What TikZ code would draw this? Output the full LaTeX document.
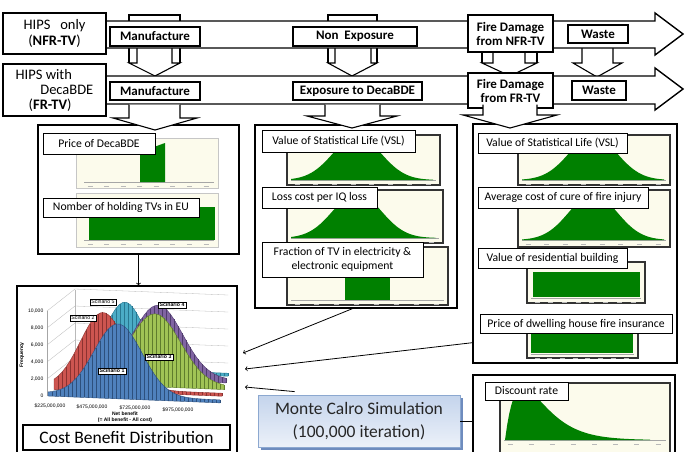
\documentclass[tikz,border=0pt]{standalone}
\usepackage{fontspec}
\setmainfont{Carlito}
\newfontfamily\chartfont{Liberation Sans}
\usetikzlibrary{arrows,calc}

\definecolor{chartbg}{RGB}{252,251,236}
\definecolor{distgreen}{RGB}{0,128,0}
\definecolor{mcTop}{RGB}{196,212,236}
\definecolor{mcBot}{RGB}{236,241,249}
\definecolor{mcEdge}{RGB}{140,168,208}
\definecolor{mcShadow}{RGB}{110,140,190}
\definecolor{scBlue}{RGB}{79,129,189}
\definecolor{scBlueD}{RGB}{45,80,125}
\definecolor{scRed}{RGB}{205,85,80}
\definecolor{scRedD}{RGB}{140,50,48}
\definecolor{scGreen}{RGB}{160,195,85}
\definecolor{scGreenD}{RGB}{95,125,45}
\definecolor{scPurple}{RGB}{128,100,162}
\definecolor{scPurpleD}{RGB}{80,60,110}
\definecolor{scCyan}{RGB}{75,172,198}
\definecolor{scCyanD}{RGB}{40,120,145}

\newcommand{\chartaxis}[3]{%
  \draw[gray!70, line width=0.5pt] (#1,#3) -- (#2,#3);
  \foreach \t in {0,...,7}{\draw[gray!55, line width=0.9pt] ({#1+6+\t*(#2-#1-14)/7-2.5},{#3+4}) -- ++(5,0);}
}

\begin{document}
\begin{tikzpicture}[x=1pt, y=-1pt,
  band/.style={draw, fill=white, line width=1.4pt, line join=miter},
  hipsbox/.style={draw, fill=white, line width=1.4pt, font=\fontsize{14.5}{16}\selectfont, inner sep=2pt},
  stage/.style={draw, fill=white, line width=1.1pt, font=\bfseries\fontsize{13}{14}\selectfont, align=center, inner sep=1pt},
  downarrow/.style={draw, fill=white, line width=1.1pt},
  panel/.style={draw, fill=white, line width=1.4pt},
  distframe/.style={fill=chartbg, draw=gray!45, line width=0.4pt},
  darkframe/.style={fill=chartbg, draw=black!80, line width=1.6pt},
  lbl/.style={draw, fill=white, line width=0.9pt, font=\fontsize{11.7}{13.5}\selectfont, inner sep=1pt, align=center},
  flow/.style={->, >=to, line width=0.8pt},
  scen/.style={draw, fill=white, line width=0.4pt, font=\chartfont\fontsize{5.2}{6}\selectfont, inner sep=1.3pt},
  scenbold/.style={scen, font=\chartfont\bfseries\fontsize{5.2}{6}\selectfont},
  tick/.style={font=\chartfont\fontsize{5}{5.6}\selectfont, inner sep=0.5pt}
]
\useasboundingbox (0,0) rectangle (685,451);

% down arrows between the two life-cycle rows
\foreach \ra/\rb/\sa/\sb/\tx in {129/180/137/172/155, 328/377/335/371/352, 482/537/493/525/510}{
  \draw[downarrow] (\ra,63) -- (\ra,15) -- (\rb,15) -- (\rb,63);
  \draw[downarrow] (\sa,40) -- (\sa,63) -- (\ra,63) -- (\tx,76) -- (\rb,63) -- (\sb,63) -- (\sb,40);
}
\draw[downarrow] (582,40) -- (582,63) -- (573,63) -- (597,77) -- (622,63) -- (613,63) -- (613,40);

% life-cycle bands
\draw[band] (100,21) -- (655,21) -- (655,13) -- (683,34) -- (655,55) -- (655,48) -- (100,48) -- cycle;
\draw[band] (100,76) -- (655,76) -- (655,68) -- (683,89) -- (655,110) -- (655,104) -- (100,104) -- cycle;

\node[hipsbox, minimum width=103, minimum height=41, align=center] (nfr) at (54.5,33.5) {HIPS\ \ \ only\\(\textbf{NFR-TV})};
\node[hipsbox, minimum width=103, minimum height=52, align=left, font=\fontsize{14.5}{15}\selectfont] (fr) at (54.5,90) {HIPS with\\\hspace*{1.7em}DecaBDE\\\hspace*{0.9em}(\textbf{FR-TV})};

\node[stage, minimum width=90, minimum height=19] (manuA) at (155,36.5) {Manufacture};
\node[stage, minimum width=124, minimum height=19] (nonexp) at (355,36.5) {Non\ \ Exposure};
\node[stage, minimum width=85, minimum height=37] (fireA) at (510.5,33.5) {Fire Damage\\from NFR-TV};
\node[stage, minimum width=60, minimum height=18] (wasteA) at (598,34) {Waste};

\node[stage, minimum width=90, minimum height=18] (manuB) at (155,91) {Manufacture};
\node[stage, minimum width=129, minimum height=18] (exposure) at (357.5,91) {Exposure to DecaBDE};
\node[stage, minimum width=85, minimum height=35] (fireB) at (510.5,90.5) {Fire Damage\\from FR-TV};
\node[stage, minimum width=54, minimum height=19] (wasteB) at (599,90.5) {Waste};

% parameter panels
\node[panel, minimum width=201, minimum height=129] (pricepanel) at (138.5,189.5) {};
\node[panel, minimum width=202, minimum height=183] (vslpanel) at (356,216.5) {};
\node[panel, minimum width=204, minimum height=239] (firepanel) at (575,243.5) {};
\node[panel, minimum width=202, minimum height=95] (ratepanel) at (574,422.5) {};

% panel 1
\filldraw[distframe] (76,138) rectangle (218,188);
\chartaxis{84}{214}{182}
\fill[distgreen] (140,182) -- (140,152) -- (165,143) -- (165,182) -- cycle;
\filldraw[distframe] (76,193) rectangle (218,247);
\chartaxis{84}{214}{240}
\fill[distgreen] (89,207) rectangle (215,240);
\node[lbl, minimum width=112, minimum height=21] (price) at (99,143.5) {Price of DecaBDE};
\node[lbl, minimum width=156, minimum height=19] (holding) at (121,207.5) {Nomber of holding TVs in EU};

% panel 2
\filldraw[darkframe] (287,135) rectangle (440,185);
\chartaxis{291}{436}{180}
\fill[distgreen] (291,180) -- plot[domain=291:433, samples=50] (\x,{180-44*exp(-(\x-357)*(\x-357)/1156)}) -- (433,180) -- cycle;
\filldraw[darkframe] (287,190) rectangle (443,243);
\chartaxis{291}{439}{238}
\fill[distgreen] (291,238) -- plot[domain=291:436, samples=50] (\x,{238-45*exp(-(\x-357)*(\x-357)/1156)}) -- (436,238) -- cycle;
\filldraw[darkframe] (287,247) rectangle (448,305);
\chartaxis{291}{444}{300}
\fill[distgreen] (345,268) rectangle (390,300);
\node[lbl, minimum width=153, minimum height=22] (vslA) at (338.5,141) {Value of Statistical Life (VSL)};
\node[lbl, minimum width=115, minimum height=21] (iq) at (319.5,197.5) {Loss cost per IQ loss};
\node[lbl, minimum width=161, minimum height=35] (fraction) at (342.5,259.5) {Fraction of TV in electricity \&\\electronic equipment};

% panel 3
\filldraw[darkframe] (518,135) rectangle (670,185);
\chartaxis{522}{666}{180}
\fill[distgreen] (522,180) -- plot[domain=522:664, samples=50] (\x,{180-44*exp(-(\x-593)*(\x-593)/1156)}) -- (664,180) -- cycle;
\filldraw[darkframe] (518,190) rectangle (670,247);
\chartaxis{522}{666}{240}
\fill[distgreen] (522,240) -- plot[domain=522:664, samples=50] (\x,{240-46*exp(-(\x-593)*(\x-593)/1156)}) -- (664,240) -- cycle;
\filldraw[darkframe] (527,262) rectangle (645,303);
\chartaxis{531}{641}{298}
\fill[distgreen] (533,272) rectangle (640,297);
\filldraw[darkframe] (527,318) rectangle (638,358);
\chartaxis{531}{634}{354}
\fill[distgreen] (531,330) rectangle (633,353);
\node[lbl, minimum width=149, minimum height=20] (vslB) at (552.5,143) {Value of Statistical Life (VSL)};
\node[lbl, minimum width=170, minimum height=21] (injury) at (563,197.5) {Average cost of cure of fire injury};
\node[lbl, minimum width=149, minimum height=20] (building) at (552.5,258) {Value of residential building};
\node[lbl, minimum width=192, minimum height=19] (insurance) at (576,324) {Price of dwelling house fire insurance};

% panel 4
\filldraw[darkframe] (500,383) rectangle (670,470);
\chartaxis{504}{666}{440}
\fill[distgreen] (505,440) -- plot[domain=505:650, samples=70] (\x,{440-52*((\x-505)/18)*exp(1-(\x-505)/18)}) -- (650,440) -- cycle;
\node[lbl, minimum width=83, minimum height=18] (rate) at (526.5,391) {Discount rate};

% down arrows from the second row into the panels
\foreach \sa/\sb/\ha/\hb/\hy/\tx/\ty in {129/180/113/197/118/155/130, 325/380/307/397/116/352/128, 483/537/463/557/115/510/128}{
  \filldraw[downarrow] (\sa,104.7) -- (\sa,\hy) -- (\ha,\hy) -- (\tx,\ty) -- (\hb,\hy) -- (\sb,\hy) -- (\sb,104.7);
}

% cost benefit chart
\node[panel, minimum width=220, minimum height=174] (chartbox) at (127,373) {};
\foreach \v in {0,2,...,10}{
  \draw[gray!55, line width=0.3pt] (47,{396-8.5*\v}) -- (75,{374-8.5*\v}) -- (228,{380-8.5*\v});
  \node[tick, anchor=east] at (44,{396-8.5*\v}) {\ifnum\v=0 0\else\v,000\fi};
}
\draw[gray!70, line width=0.4pt] (47,311) -- (47,396);
\draw[gray!55, line width=0.3pt] (75,290) -- (75,374);
\node[tick, rotate=90, font=\chartfont\bfseries\fontsize{5}{5.6}\selectfont] at (22,355) {Frequency};
\foreach \d/\cf/\cd/\mu/\h/\s in {4/scCyan/scCyanD/125/67/28, 3/scPurple/scPurpleD/158/72/35, 2/scGreen/scGreenD/155/70/36, 1/scRed/scRedD/103/76/32, 0/scBlue/scBlueD/118/72/34}{
  \pgfmathsetmacro\xa{48+6*\d}
  \pgfmathsetmacro\xb{220+2*\d}
  \pgfmathsetmacro\ya{396-6.5*\d}
  \pgfmathtruncatemacro\nk{(\xb-\xa)/4}
  \filldraw[fill=\cf, draw=\cd, line width=0.4pt] (\xa,\ya) -- plot[domain=\xa:\xb, samples=44] (\x,{\ya+0.04*(\x-\xa)-3-\h*exp(-(\x-\mu)*(\x-\mu)/(\s*\s))}) -- (\xb,{\ya+0.04*(\xb-\xa)}) -- cycle;
  \foreach \k in {1,...,\nk}{
    \pgfmathsetmacro\xx{\xa+4*\k}
    \draw[\cd, line width=0.3pt] (\xx,{\ya+0.04*(\xx-\xa)}) -- (\xx,{\ya+0.04*(\xx-\xa)-3-\h*exp(-(\xx-\mu)*(\xx-\mu)/(\s*\s))});
  }
}
\node[tick] at (50,406) {\$225,000,000};
\node[tick] at (92,407) {\$475,000,000};
\node[tick] at (135,408) {\$725,000,000};
\node[tick] at (178,410) {\$975,000,000};
\node[tick, font=\chartfont\bfseries\fontsize{5}{5.8}\selectfont, align=center] at (125,417) {Net benefit\\(= All benefit - All cost)};
\node[scen] (s5) at (103,302) {Scinario 5};
\node[scen] (s2) at (83,318) {Scinario 2};
\node[scenbold] (s4) at (172,305) {Scinario 4};
\node[scenbold] (s3) at (159,357) {Scinario 3};
\node[scenbold] (s1) at (112,371) {Scinario 1};
\node[draw, fill=white, line width=1.2pt, minimum width=207, minimum height=25, font=\fontsize{17.5}{20}\selectfont] (cbd) at (126.5,437.5) {Cost Benefit Distribution};

% Monte Carlo box
\fill[mcShadow] (261,398) rectangle (463,450);
\node[draw=mcEdge, top color=mcTop, bottom color=mcBot, line width=0.8pt, minimum width=202, minimum height=52, align=center, text=black!85, font=\fontsize{17.5}{23}\selectfont] (mcbox) at (359,421) {Monte Calro Simulation\\(100,000 iteration)};

% connectors
\coordinate (inA) at (243,353);
\coordinate (inB) at (245,369);
\coordinate (inC) at (245,387);
\draw[flow] (pricepanel.south) -- (pricepanel.south |- chartbox.north);
\draw[flow] ($(vslpanel.south west)+(98,0)$) -- (inA);
\draw[flow] ($(firepanel.south west)+(0,-21)$) -- (inB);
\draw[flow] ($(mcbox.north west)+(37,-3)$) -- (inC);
\draw[line width=0.8pt] (mcbox.east) -- (mcbox.east -| ratepanel.west);
\end{tikzpicture}
\end{document}
